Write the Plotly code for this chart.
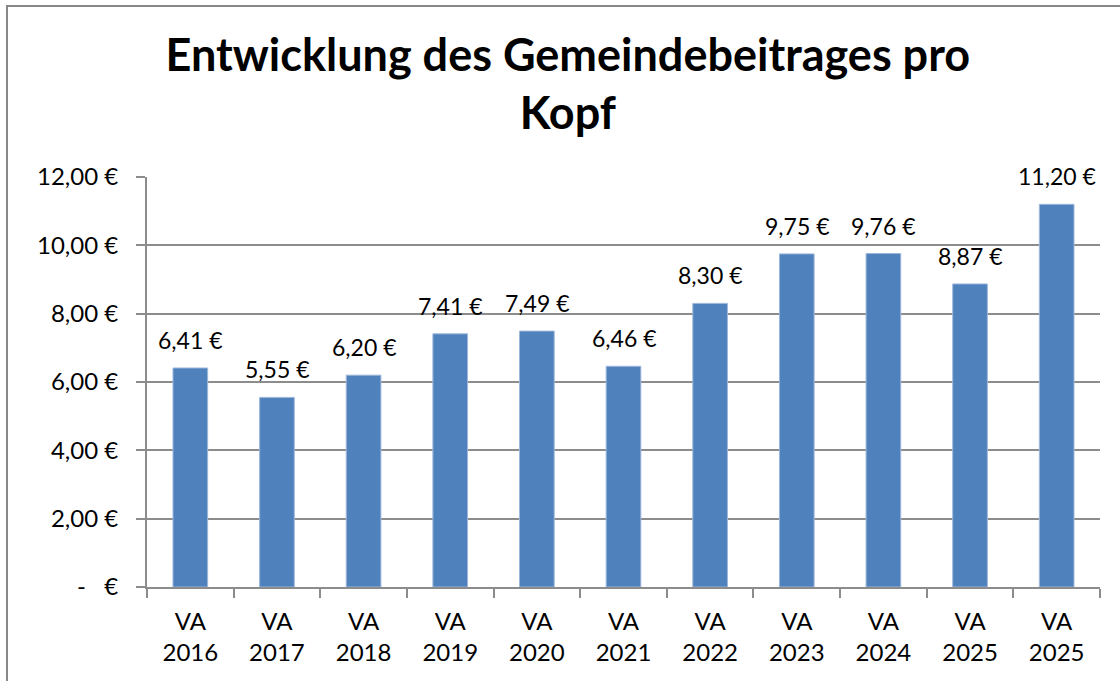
import plotly.graph_objects as go

categories = ["VA<br>2016", "VA<br>2017", "VA<br>2018", "VA<br>2019", "VA<br>2020", "VA<br>2021",
              "VA<br>2022", "VA<br>2023", "VA<br>2024", "VA<br>2025", "VA<br>2025"]
values = [6.41, 5.55, 6.20, 7.41, 7.49, 6.46, 8.30, 9.75, 9.76, 8.87, 11.20]
y_tick_values = [0, 2, 4, 6, 8, 10, 12]
y_tick_labels = ["-\u00a0\u00a0\u00a0€", "2,00 €", "4,00 €", "6,00 €", "8,00 €", "10,00 €", "12,00 €"]
title_text = "Entwicklung des Gemeindebeitrages pro<br>Kopf"

FONT = "Lato"
positions = list(range(len(values)))

def fmt(v):
    return f"{v:.2f}".replace(".", ",") + " €"

fig = go.Figure()
fig.add_trace(go.Bar(
    x=positions, y=values, width=0.4,
    marker=dict(color="#4F81BD", line=dict(color="#9DB7DA", width=1)),
    hoverinfo="skip",
))

for x, v in zip(positions, values):
    fig.add_annotation(x=x, y=v, text=fmt(v), showarrow=False, yanchor="bottom",
                       yshift=12, font=dict(family=FONT, size=23, color="black"))

grid = "#8C8C8C"
fig.update_layout(
    width=1120, height=681,
    margin=dict(l=147, r=20, t=177, b=94),
    paper_bgcolor="white", plot_bgcolor="white",
    showlegend=False,
    title=dict(text=title_text, x=0.507, xanchor="center", xref="container",
               y=0.896, yanchor="top", yref="container",
               font=dict(family=FONT, size=45, color="black", weight="bold")),
    xaxis=dict(
        range=[-0.5, len(values) - 0.5],
        tickmode="array", tickvals=positions, ticktext=categories,
        ticks="", showgrid=False, zeroline=False,
        showline=True, linecolor=grid, linewidth=2,
        tickfont=dict(family=FONT, size=24, color="black"),
        ticklabelstandoff=12,
        minor=dict(tickmode="array", tickvals=[p - 0.5 for p in positions] + [len(values) - 0.5],
                   ticks="outside", ticklen=9, tickcolor=grid, tickwidth=2, showgrid=False),
    ),
    yaxis=dict(
        range=[0, 12], tickmode="array", tickvals=y_tick_values, ticktext=y_tick_labels,
        showgrid=True, gridcolor=grid, gridwidth=2,
        zeroline=False, showline=True, linecolor=grid, linewidth=2,
        ticks="outside", ticklen=9, tickcolor=grid, tickwidth=2,
        tickfont=dict(family=FONT, size=24, color="black"),
        ticklabelstandoff=13,
    ),
    shapes=[dict(type="rect", xref="paper", yref="paper",
                 x0=(7 - 147) / 953, x1=(1130 - 147) / 953,
                 y0=(587 - 690) / 410, y1=(587 - 6) / 410,
                 line=dict(color="#888888", width=2), fillcolor="rgba(0,0,0,0)", layer="below")],
)

fig.write_html("out.html")
